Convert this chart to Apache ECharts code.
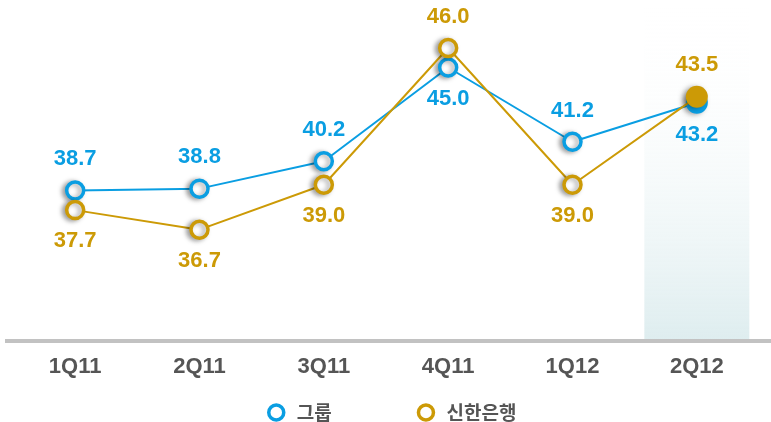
<!DOCTYPE html>
<html>
<head>
<meta charset="utf-8">
<script src="https://cdn.jsdelivr.net/npm/echarts@6/dist/echarts.min.js"></script>
<style>
html, body { margin: 0; padding: 0; background: #fff; }
#chart { width: 771px; height: 422px; }
</style>
</head>
<body>
<div id="chart"></div>
<script>
// 분기 / 시리즈 값
var quarters = ['1Q11', '2Q11', '3Q11', '4Q11', '1Q12', '2Q12'];
var groupValues = [38.7, 38.8, 40.2, 45.0, 41.2, 43.2];   // 그룹
var bankValues = [37.7, 36.7, 39.0, 46.0, 39.0, 43.5];    // 신한은행
var highlightIndex = 5;  // 강조 분기 (2Q12)

var blue = '#0a9ee2';
var gold = '#cc9a06';
var yMin = 31, yMax = 48.2;

var chart = echarts.init(document.getElementById('chart'));

// 점 데이터 만들기 (라벨 위/아래, 마지막 점은 채운 원)
function buildPoints(values, color, belowIdx) {
    return values.map(function (v, i) {
        var last = i === values.length - 1;
        var below = belowIdx.indexOf(i) >= 0;
        return {
            value: v,
            symbol: 'circle',
            symbolSize: last ? 22 : 17,
            itemStyle: {
                color: last ? color : '#fff',
                borderColor: color,
                borderWidth: last ? 0 : 3.5
            },
            label: { position: below ? 'bottom' : 'top' }
        };
    });
}

var highlightData = quarters.map(function (q, i) { return i === highlightIndex ? yMax : null; });

var labelStyle = {
    show: true,
    distance: 10,
    fontFamily: 'Liberation Sans, Arial, sans-serif',
    fontWeight: 'bold',
    fontSize: 22,
    formatter: function (p) { return p.value.toFixed(1); }
};

var shadow = {
    shadowColor: 'rgba(0,0,0,0.35)',
    shadowBlur: 5,
    shadowOffsetX: -3,
    shadowOffsetY: 1
};

var option = {
    animation: false,
    grid: { left: 13, right: 12, top: 5, bottom: 81 },
    graphic: [{
        type: 'line',
        shape: { x1: 5, y1: 341, x2: 771, y2: 341 },
        style: { stroke: '#c2c2c2', lineWidth: 4 },
        z: 1
    }],
    legend: {
        top: 398,
        left: 262,
        itemGap: 85,
        itemWidth: 15,
        itemHeight: 17,
        textStyle: {
            fontFamily: 'Noto Sans CJK KR',
            fontWeight: 'bold',
            fontSize: 19,
            color: '#555',
            padding: [0, 0, 0, 8]
        },
        data: [
            { name: '그룹', icon: 'circle', itemStyle: { color: '#fff', borderColor: blue, borderWidth: 3.5 } },
            { name: '신한은행', icon: 'circle', itemStyle: { color: '#fff', borderColor: gold, borderWidth: 3.5 } }
        ]
    },
    xAxis: {
        type: 'category',
        data: quarters,
        axisLine: { show: false },
        axisTick: { show: false },
        axisLabel: {
            margin: 15,
            fontFamily: 'Liberation Sans, Arial, sans-serif',
            fontWeight: 'bold',
            fontSize: 22,
            color: '#555'
        }
    },
    yAxis: {
        type: 'value',
        min: yMin,
        max: yMax,
        show: false
    },
    series: [
        {
            name: 'highlight',
            type: 'bar',
            barWidth: 105,
            silent: true,
            z: 0,
            data: highlightData,
            itemStyle: {
                color: new echarts.graphic.LinearGradient(0, 0, 0, 1, [
                    { offset: 0, color: 'rgba(255,255,255,0)' },
                    { offset: 1, color: '#deedef' }
                ])
            }
        },
        {
            name: '그룹',
            type: 'line',
            z: 3,
            data: buildPoints(groupValues, blue, [3, 5]),
            lineStyle: { color: blue, width: 2 },
            itemStyle: Object.assign({ color: '#fff', borderColor: blue, borderWidth: 3.5 }, shadow),
            label: Object.assign({ color: blue }, labelStyle)
        },
        {
            name: '신한은행',
            type: 'line',
            z: 4,
            data: buildPoints(bankValues, gold, [0, 1, 2, 4]),
            lineStyle: { color: gold, width: 2 },
            itemStyle: Object.assign({ color: '#fff', borderColor: gold, borderWidth: 3.5 }, shadow),
            label: Object.assign({ color: gold }, labelStyle)
        }
    ]
};

chart.setOption(option);
</script>
</body>
</html>
